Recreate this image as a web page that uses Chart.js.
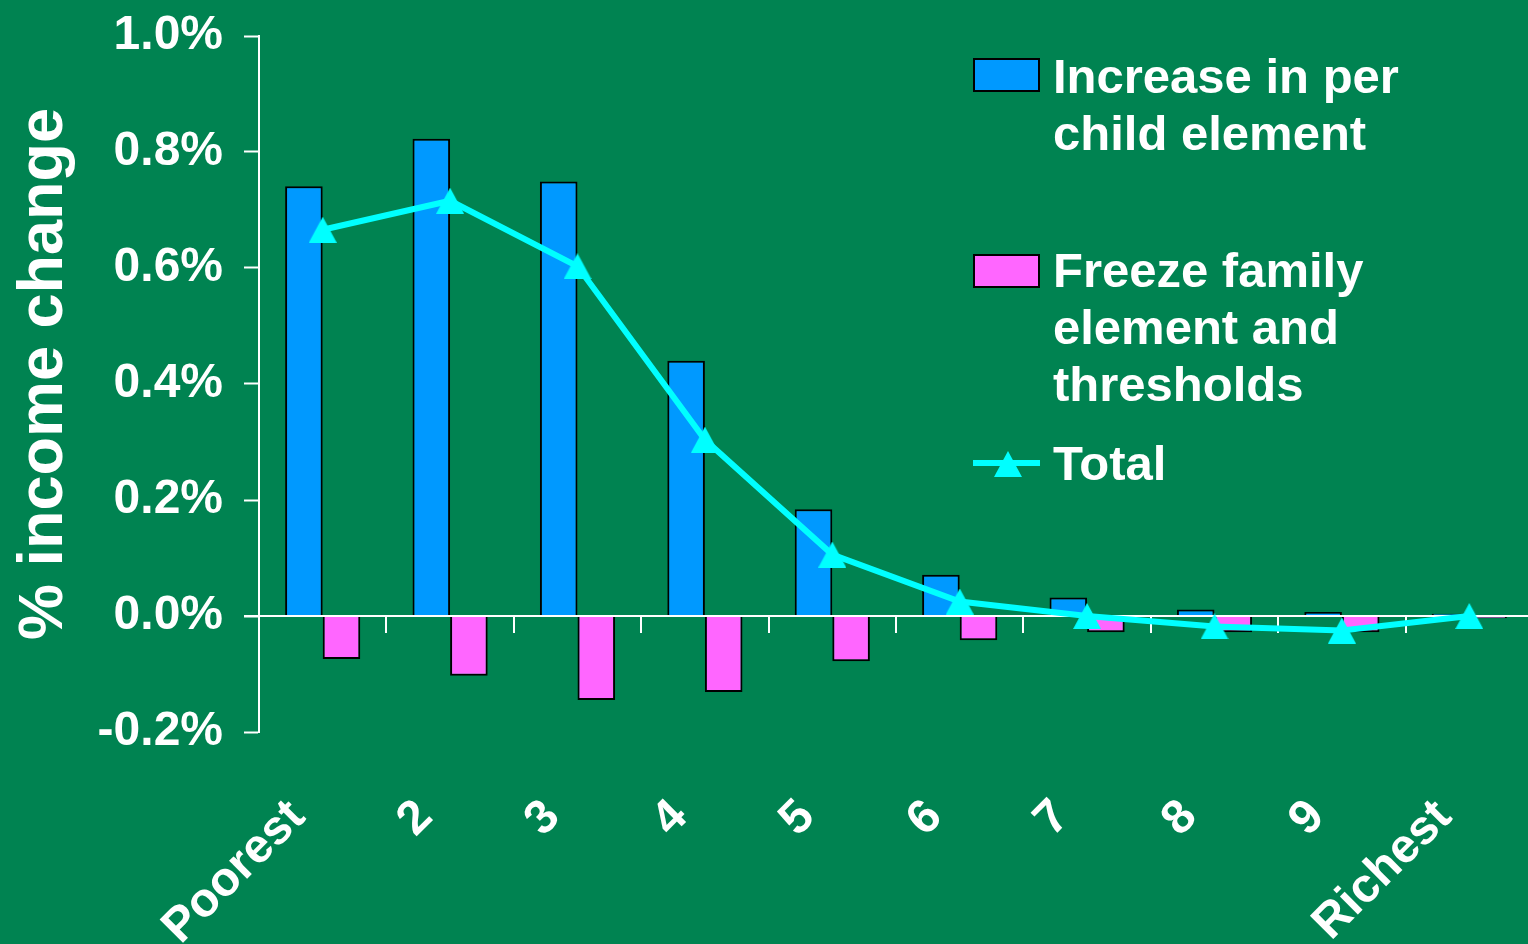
<!DOCTYPE html>
<html>
<head>
<meta charset="utf-8">
<script src="https://cdn.jsdelivr.net/npm/chart.js@4.4.1/dist/chart.umd.min.js"></script>
<style>
html, body { margin: 0; padding: 0; background: #008351; overflow: hidden; width: 1528px; height: 944px; }
#wrap { position: absolute; left: 0; top: 0; width: 1553px; height: 944px; }
</style>
</head>
<body>
<div id="wrap"><canvas id="c" width="1553" height="944"></canvas></div>
<script>
// ---- data ----
const categories = ['Poorest', '2', '3', '4', '5', '6', '7', '8', '9', 'Richest'];
const perChildIncrease = [0.741, 0.823, 0.749, 0.440, 0.184, 0.071, 0.032, 0.011, 0.007, 0.004];
const freezeFamily = [-0.074, -0.103, -0.145, -0.131, -0.078, -0.042, -0.028, -0.028, -0.028, -0.004];
const totalChange = [0.666, 0.716, 0.603, 0.304, 0.106, 0.025, 0.000, -0.018, -0.025, 0.000];
const yTickValues = [-0.2, 0, 0.2, 0.4, 0.6, 0.8, 1.0];
const seriesNames = ['Increase in per child element', 'Freeze family element and thresholds', 'Total'];
const legendLines = [['Increase in per', 'child element'], ['Freeze family', 'element and', 'thresholds'], ['Total']];
const yAxisTitle = '% income change';

// ---- styles ----
const FONT = '"Liberation Sans", Arial, sans-serif';
const WHITE = '#ffffff';
const BLUE = '#0099FF';
const PINK = '#FF66FF';
const CYAN = '#00FFFF';

function makeTriangle(w, h) {
  const c = document.createElement('canvas');
  c.width = w; c.height = h;
  const g = c.getContext('2d');
  g.fillStyle = CYAN;
  g.beginPath();
  g.moveTo(w / 2, 0);
  g.lineTo(w, h);
  g.lineTo(0, h);
  g.closePath();
  g.fill();
  return c;
}
const triangleImg = makeTriangle(28, 26);

const decorPlugin = {
  id: 'decor',
  beforeDatasetDraw(chart, args) {
    if (args.meta.type !== 'line') return;
    const { ctx, chartArea, scales } = chart;
    const x = scales.x, y = scales.y;
    const y0 = y.getPixelForValue(0);
    const step = x.getPixelForValue(1) - x.getPixelForValue(0);
    ctx.save();
    ctx.strokeStyle = WHITE;
    ctx.lineWidth = 2;
    ctx.beginPath();
    ctx.moveTo(chartArea.left - 15, y0);
    ctx.lineTo(chartArea.right, y0);
    ctx.stroke();
    ctx.beginPath();
    for (let i = 0; i < categories.length; i++) {
      const xb = Math.round(x.getPixelForValue(i) + step / 2);
      ctx.moveTo(xb, y0);
      ctx.lineTo(xb, y0 + 17);
    }
    ctx.stroke();
    ctx.restore();
  },
  afterDraw(chart) {
    const ctx = chart.ctx;
    ctx.save();
    // y axis title
    ctx.fillStyle = WHITE;
    ctx.font = 'bold 63px ' + FONT;
    ctx.textAlign = 'center';
    ctx.textBaseline = 'alphabetic';
    ctx.translate(62, 374);
    ctx.rotate(-Math.PI / 2);
    ctx.fillText(yAxisTitle, 0, 0);
    ctx.restore();

    // legend
    ctx.save();
    ctx.font = 'bold 49px ' + FONT;
    ctx.fillStyle = WHITE;
    ctx.textAlign = 'left';
    ctx.textBaseline = 'alphabetic';
    const lh = 57;
    const boxes = [
      { color: BLUE, boxY: 59, baseY: 93 },
      { color: PINK, boxY: 255, baseY: 287 }
    ];
    boxes.forEach((b, i) => {
      ctx.fillStyle = b.color;
      ctx.fillRect(974, b.boxY, 65, 32);
      ctx.strokeStyle = '#000';
      ctx.lineWidth = 2;
      ctx.strokeRect(974, b.boxY, 65, 32);
      ctx.fillStyle = WHITE;
      legendLines[i].forEach((t, k) => ctx.fillText(t, 1053, b.baseY + k * lh));
    });
    ctx.strokeStyle = CYAN;
    ctx.lineWidth = 6;
    ctx.beginPath();
    ctx.moveTo(973, 463);
    ctx.lineTo(1040, 463);
    ctx.stroke();
    ctx.drawImage(triangleImg, 1008 - 14, 464 - 13);
    ctx.fillStyle = WHITE;
    ctx.fillText(legendLines[2][0], 1053, 480);
    ctx.restore();
  }
};

Chart.defaults.font.family = FONT;

new Chart(document.getElementById('c'), {
  type: 'bar',
  data: {
    labels: categories,
    datasets: [
      {
        label: seriesNames[0],
        data: perChildIncrease,
        backgroundColor: BLUE,
        borderColor: '#000000',
        borderWidth: 2,
        borderSkipped: 'start',
        categoryPercentage: 0.59,
        barPercentage: 1.0,
        order: 1
      },
      {
        label: seriesNames[1],
        data: freezeFamily,
        backgroundColor: PINK,
        borderColor: '#000000',
        borderWidth: 2,
        borderSkipped: 'start',
        categoryPercentage: 0.59,
        barPercentage: 1.0,
        order: 1
      },
      {
        type: 'line',
        label: seriesNames[2],
        data: totalChange,
        borderColor: CYAN,
        borderWidth: 6,
        tension: 0,
        pointStyle: triangleImg,
        pointRadius: 14,
        pointHoverRadius: 14,
        order: 0
      }
    ]
  },
  options: {
    responsive: false,
    animation: false,
    devicePixelRatio: 1,
    layout: { padding: { top: 36, right: 7, bottom: 0, left: 0 } },
    plugins: {
      legend: { display: false },
      tooltip: { enabled: false },
      title: { display: false }
    },
    scales: {
      x: {
        type: 'category',
        offset: true,
        grid: { display: false },
        border: { display: false },
        ticks: {
          color: WHITE,
          font: { size: 48, weight: 'bold' },
          maxRotation: 45,
          minRotation: 45,
          autoSkip: false,
          padding: 49,
          labelOffset: -25
        },
        afterFit: (s) => { s.height = 212; s.paddingLeft = 0; s.paddingRight = 0; }
      },
      y: {
        min: -0.2,
        max: 1.0,
        afterBuildTicks: (s) => { s.ticks = yTickValues.map(v => ({ value: v })); },
        grid: {
          display: true,
          drawOnChartArea: false,
          drawTicks: true,
          tickLength: 15,
          tickColor: WHITE,
          tickWidth: 2,
          color: WHITE
        },
        border: { display: true, color: WHITE, width: 2 },
        ticks: {
          color: WHITE,
          font: { size: 48, weight: 'bold' },
          padding: 21,
          callback: (v) => Number(v).toFixed(1) + '%'
        },
        title: { display: false },
        afterFit: (s) => { s.width = 259; s.paddingTop = 0; s.paddingBottom = 0; }
      }
    }
  },
  plugins: [decorPlugin]
});
</script>
</body>
</html>
